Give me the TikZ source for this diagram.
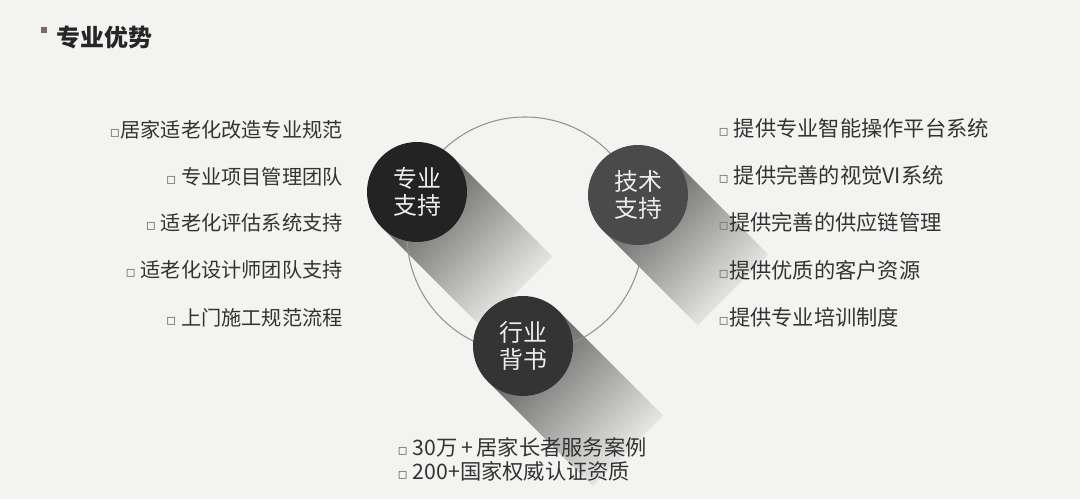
\documentclass[tikz,border=0pt]{standalone}
\usepackage{fontspec}
\newfontfamily\cjk{Noto Sans CJK SC}
\newfontfamily\symfont{DejaVu Sans}
\usetikzlibrary{calc,fadings}

\definecolor{paper}{HTML}{F3F3F1}
\definecolor{ink}{HTML}{333333}
\definecolor{ballA}{HTML}{232323}
\definecolor{ballB}{HTML}{4A4A4A}
\definecolor{ballC}{HTML}{343434}
\definecolor{tagbrown}{HTML}{7B6B63}

\tikzfading[name=longfade, left color=transparent!35, right color=transparent!100]
\newcommand{\bul}{{\symfont\fontsize{9}{9}\selectfont\color{ink!65}▫}}
% long shadow behind a ball: centre, length
\newcommand{\castshadow}[2]{%
  \fill[black, path fading=longfade, fading angle=-45]
    ($(#1)+(-45:50)$) -- ($(#1)+(-45:50)+(#2,#2)$)
    -- ($(#1)+(135:50)+(#2,#2)$) -- ($(#1)+(135:50)$) -- cycle;}

\begin{document}
\begin{tikzpicture}[x=0.02cm,y=-0.02cm,
  ball/.style={circle,minimum size=2cm,inner sep=0pt,text=white!93!black,align=center,
    font=\cjk\fontsize{13.6}{15.5}\selectfont},
  item/.style={inner sep=0pt,text=ink,font=\cjk\fontsize{11.5}{13}\selectfont},
  wide/.style={item,font=\cjk\fontsize{12.1}{13}\selectfont}]
  \fill[paper] (0,0) rectangle (1080,499);
  \useasboundingbox (0,0) rectangle (1080,499);

  \coordinate (O) at (525,235);
  \coordinate (P) at (417,192);
  \coordinate (T) at (638,195);
  \coordinate (E) at (523,346);

  % shadows first, then the ring, then the balls
  \castshadow{P}{100}
  \castshadow{T}{95}
  \castshadow{E}{105}
  \draw[gray!85,line width=0.6pt] (O) circle (118);

  \node[ball,fill=ballA] (pro) at (P) {专业\\支持};
  \node[ball,fill=ballB] (tech) at (T) {技术\\支持};
  \node[ball,fill=ballC] (endorse) at (E) {行业\\背书};

  % title
  \fill[tagbrown] (41,27) rectangle (47,33);
  \node[item,anchor=west,font=\cjk\bfseries\fontsize{13.6}{15}\selectfont,text=black!85] (title) at (56,37) {专业优势};

  % left list
  \node[item,anchor=east] (l1) at (343,130) {\bul{}居家适老化改造专业规范};
  \node[item,anchor=east] (l2) at (343,177) {\bul\ 专业项目管理团队};
  \node[item,anchor=east] (l3) at (343,223) {\bul\ 适老化评估系统支持};
  \node[item,anchor=east] (l4) at (343,270) {\bul\ 适老化设计师团队支持};
  \node[item,anchor=east] (l5) at (343,318) {\bul\ 上门施工规范流程};

  % right list
  \node[wide,anchor=west] (r1) at (718,128) {\bul\ 提供专业智能操作平台系统};
  \node[wide,anchor=west] (r2) at (718,175) {\bul\ 提供完善的视觉VI系统};
  \node[wide,anchor=west] (r3) at (718,222) {\bul{}提供完善的供应链管理};
  \node[wide,anchor=west] (r4) at (718,270) {\bul{}提供优质的客户资源};
  \node[wide,anchor=west] (r5) at (718,317) {\bul{}提供专业培训制度};

  % bottom list
  \node[wide,anchor=west] (b1) at (397,447) {\bul\ 30万\,+\,居家长者服务案例};
  \node[wide,anchor=west] (b2) at (397,471) {\bul\ 200+国家权威认证资质};
\end{tikzpicture}
\end{document}
